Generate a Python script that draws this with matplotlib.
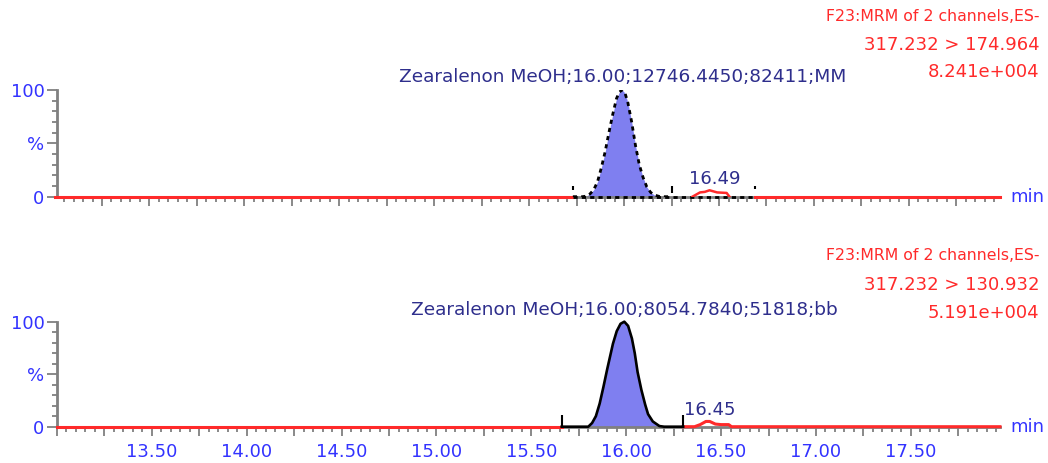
import numpy as np
import matplotlib.pyplot as plt
from matplotlib.ticker import MultipleLocator, FuncFormatter

# channel 1: 317.232 > 174.964  (time in min, intensity in % of base peak)
ch1_time = [13.0, 15.73, 15.78, 15.80, 15.82, 15.84, 15.86, 15.88, 15.90, 15.92,
            15.94, 15.96, 15.975, 15.99, 16.005, 16.02, 16.04, 16.06, 16.08,
            16.10, 16.12, 16.14, 16.16, 16.19, 16.25, 16.36, 16.40, 16.425,
            16.45, 16.49, 16.54, 16.555, 16.69, 17.98]
ch1_int = [0, 0, 0, 0.5, 2.5, 6.5, 14, 27, 42, 60,
           77, 92, 98, 100, 97, 88, 70, 48, 30,
           18, 9, 4, 1.5, 0, 0, 0, 4, 4.5,
           6, 4, 3.5, 0, 0, 0]
ch1_marks = [15.73, 16.25, 16.69]      # integration start / peak end / window end
ch1_bump = (16.36, 16.555)             # small peak inside the window
ch1_label = "Zearalenon MeOH;16.00;12746.4450;82411;MM"
ch1_minor = "16.49"
ch1_minor_t = 16.48
ch1_header = ["F23:MRM of 2 channels,ES-", "317.232 > 174.964", "8.241e+004"]

# channel 2: 317.232 > 130.932
ch2_time = [13.0, 15.66, 15.80, 15.82, 15.84, 15.86, 15.88, 15.90, 15.91, 15.93,
            15.95, 15.97, 15.99, 16.01, 16.03, 16.045, 16.06, 16.08, 16.10,
            16.115, 16.14, 16.175, 16.20, 16.30, 16.36, 16.39, 16.42, 16.44,
            16.47, 16.50, 16.54, 16.555, 17.97]
ch2_int = [0, 0, 0, 3.5, 10, 22, 38, 55, 63, 79,
           91, 98, 100, 96, 84, 70, 52, 35, 21,
           12, 5, 0.6, 0, 0, 0, 2, 5, 5,
           2.5, 2, 2, 0, 0]
ch2_marks = [15.66, 16.30]
ch2_label = "Zearalenon MeOH;16.00;8054.7840;51818;bb"
ch2_minor = "16.45"
ch2_minor_t = 16.44
ch2_header = ["F23:MRM of 2 channels,ES-", "317.232 > 130.932", "5.191e+004"]

RED = '#ff2a2a'
BLUE = '#3333ff'
NAVY = '#2e2e8c'
GRAY = '#808080'
FILL = '#7f7ff0'

plt.rcParams['font.family'] = 'DejaVu Sans'
plt.rcParams['font.size'] = 13

fig = plt.figure(figsize=(10.48, 4.63), dpi=100)
ax1 = fig.add_axes([0.0544, 0.5752, 0.8998, 0.2305])
ax2 = fig.add_axes([0.0544, 0.0784, 0.8998, 0.2268])


def time_label(v, pos):
    # label every half minute, leave the quarter ticks blank
    if v < 13.25 or abs(v * 2 - round(v * 2)) > 1e-6:
        return ''
    return f'{v:.2f}'


def style_axis(ax, xlim, show_labels):
    ax.set_xlim(*xlim)
    ax.set_ylim(0, 100)
    for s in ['top', 'right']:
        ax.spines[s].set_visible(False)
    for s in ['left', 'bottom']:
        ax.spines[s].set_color(GRAY)
        ax.spines[s].set_linewidth(2)
    ax.xaxis.set_major_locator(MultipleLocator(0.25))
    ax.xaxis.set_minor_locator(MultipleLocator(0.05))
    if show_labels:
        ax.xaxis.set_major_formatter(FuncFormatter(time_label))
    else:
        ax.xaxis.set_major_formatter(FuncFormatter(lambda v, p: ''))
    ax.set_yticks([0, 50, 100])
    ax.set_yticklabels(['0', '%', '100'])
    ax.yaxis.set_minor_locator(MultipleLocator(10))
    ax.tick_params(axis='x', which='major', length=6.5, width=1.3, color=GRAY,
                   labelcolor=BLUE, pad=5)
    ax.tick_params(axis='x', which='minor', length=3.6, width=1.3, color=GRAY)
    ax.tick_params(axis='y', which='major', length=7, width=1.3, color=GRAY,
                   labelcolor=BLUE, pad=2)
    ax.tick_params(axis='y', which='minor', length=3.6, width=1.3, color=GRAY)
    ax.text(1.0106, 0, 'min', transform=ax.transAxes, color=BLUE,
            ha='left', va='center')


# ---- channel 1 ----
t = np.array(ch1_time)
y = np.array(ch1_int)
style_axis(ax1, (13.013, 17.98), False)
s, pe, e = ch1_marks
left = t <= s
right = t >= e
bump = (t >= ch1_bump[0]) & (t <= ch1_bump[1])
peak = (t >= s) & (t <= pe)
ax1.fill_between(t[peak], 0, y[peak], color=FILL, lw=0, zorder=2)
ax1.plot(t[left], y[left], color=RED, lw=2.2, clip_on=False, zorder=3)
ax1.plot(t[right], y[right], color=RED, lw=2.2, clip_on=False, zorder=3)
ax1.plot([s, e], [0, 0], color='black', lw=2, ls=(0, (1.5, 1.5)),
         clip_on=False, zorder=4)
ax1.plot(t[peak], y[peak], color='black', lw=2, ls=(0, (1.5, 1.5)), zorder=4)
ax1.plot(t[bump], y[bump], color=RED, lw=1.8, zorder=5)
ax1.vlines(ch1_marks, [6, 3, 7], [10, 10, 10], color='black', lw=1.5, zorder=4)
ax1.text(15.99, 112, ch1_label, color=NAVY, ha='center', va='center',
         clip_on=False, fontsize=13.3)
ax1.text(ch1_minor_t, 17, ch1_minor, color=NAVY, ha='center', va='center')

# ---- channel 2 ----
t = np.array(ch2_time)
y = np.array(ch2_int)
style_axis(ax2, (13.0, 17.97), True)
s, e = ch2_marks
left = t <= s
right = t >= e
peak = (t >= s) & (t <= e)
ax2.fill_between(t[peak], 0, y[peak], color=FILL, lw=0, zorder=2)
ax2.plot(t[left], y[left], color=RED, lw=2.2, clip_on=False, zorder=3)
ax2.plot(t[right], y[right], color=RED, lw=2.2, clip_on=False, zorder=3)
ax2.plot(t[peak], y[peak], color='black', lw=1.9, clip_on=False, zorder=4)
ax2.vlines(ch2_marks, 0, 11, color='black', lw=1.5, zorder=4)
ax2.text(15.99, 111, ch2_label, color=NAVY, ha='center', va='center',
         clip_on=False, fontsize=13.3)
ax2.text(ch2_minor_t, 16, ch2_minor, color=NAVY, ha='center', va='center')

# run headers, right aligned in the top corner of each trace
for ys, lines in [((0.9654, 0.9028, 0.8445), ch1_header),
                  ((0.4471, 0.3844, 0.3240), ch2_header)]:
    for k, (yy, line) in enumerate(zip(ys, lines)):
        fig.text(0.992, yy, line, color=RED, ha='right', va='center',
                 fontsize=11.3 if k == 0 else 13)

fig.savefig('out.png', dpi=100)
